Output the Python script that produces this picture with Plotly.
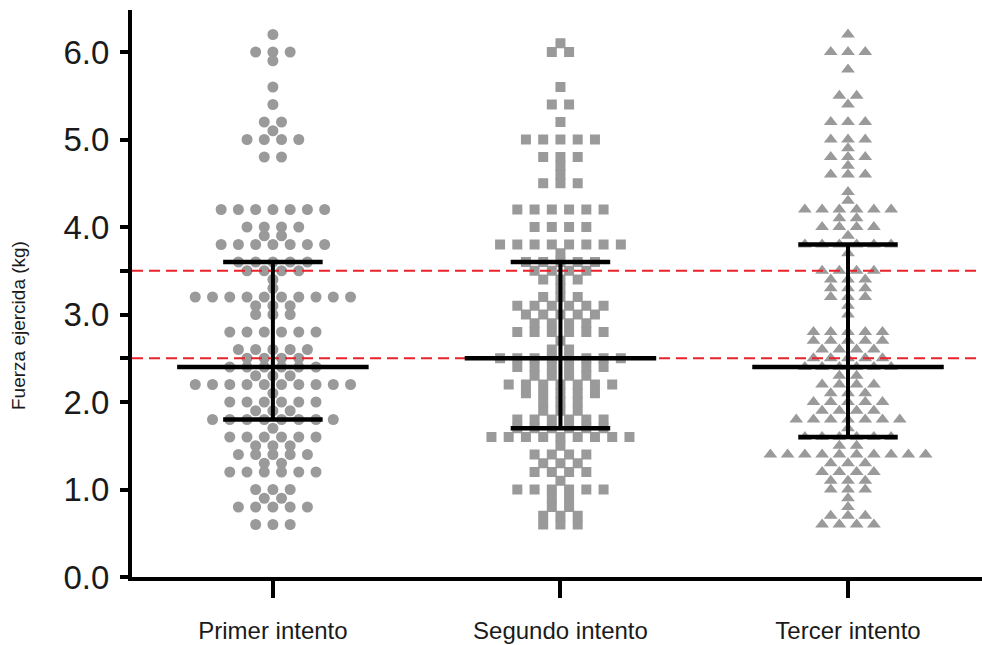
import numpy as np
import plotly.graph_objects as go

categories = ["Primer intento", "Segundo intento", "Tercer intento"]

g1_levels = [6.2, 6.0, 5.9, 5.6, 5.4, 5.2, 5.1, 5.0, 4.8, 4.2, 4.0, 3.9, 3.8, 3.6, 3.5, 3.4, 3.3, 3.2, 3.1, 3.0,
             2.8, 2.6, 2.5, 2.4, 2.3, 2.2, 2.1, 2.0, 1.9, 1.8, 1.7, 1.6, 1.5, 1.4, 1.3, 1.2, 1.0, 0.9, 0.8, 0.6]
g1_counts = [1, 3, 1, 1, 1, 2, 1, 4, 2, 7, 4, 2, 7, 5, 4, 1, 1, 10, 3, 3,
             6, 5, 4, 6, 3, 10, 1, 6, 3, 8, 1, 6, 3, 5, 2, 6, 3, 2, 5, 3]

g2_levels = [6.1, 6.0, 5.6, 5.4, 5.2, 5.0, 4.8, 4.7, 4.6, 4.5, 4.2, 4.0, 3.8, 3.7, 3.6, 3.5, 3.4, 3.3, 3.2, 3.1,
             3.0, 2.9, 2.8, 2.7, 2.6, 2.5, 2.4, 2.3, 2.2, 2.1, 2.0, 1.9, 1.8, 1.7, 1.6, 1.5, 1.4, 1.3, 1.2, 1.1,
             1.0, 0.9, 0.8, 0.7, 0.6]
g2_counts = [1, 2, 1, 2, 1, 5, 3, 1, 1, 3, 6, 4, 8, 1, 5, 4, 3, 1, 3, 6,
             5, 4, 6, 1, 2, 8, 6, 4, 7, 5, 3, 3, 6, 6, 9, 1, 4, 3, 4, 1,
             6, 2, 2, 3, 3]

g3_levels = [6.2, 6.0, 5.8, 5.5, 5.4, 5.2, 5.0, 4.9, 4.8, 4.7, 4.6, 4.4, 4.3, 4.2, 4.1, 4.0, 3.9, 3.8, 3.7, 3.5,
             3.4, 3.3, 3.2, 3.1, 3.0, 2.8, 2.7, 2.6, 2.5, 2.4, 2.3, 2.2, 2.1, 2.0, 1.9, 1.8, 1.7, 1.6, 1.5, 1.4,
             1.3, 1.2, 1.1, 1.0, 0.9, 0.8, 0.7, 0.6]
g3_counts = [1, 3, 1, 2, 1, 3, 3, 1, 3, 1, 3, 1, 1, 6, 2, 4, 1, 6, 1, 4,
             3, 3, 3, 1, 1, 5, 5, 4, 5, 6, 2, 4, 3, 5, 4, 7, 1, 6, 2, 10,
             3, 4, 3, 3, 1, 1, 3, 4]

medians = [2.4, 2.5, 2.4]
q1 = [1.8, 1.7, 1.6]
q3 = [3.6, 3.6, 3.8]
ref_lines = [2.5, 3.5]

y_tickvals = [0, 1, 2, 3, 4, 5, 6, 2.5, 3.5]
y_ticktext = ["0.0", "1.0", "2.0", "3.0", "4.0", "5.0", "6.0", "", ""]

groups = [(g1_levels, g1_counts, "circle"),
          (g2_levels, g2_counts, "square"),
          (g3_levels, g3_counts, "triangle-up")]

STEP = 0.06
GRAY = "#9a9a9a"
FONT = "Liberation Sans, Arial, sans-serif"

fig = go.Figure()
for gi, (levels, counts, sym) in enumerate(groups):
    xs, ys = [], []
    for v, n in zip(levels, counts):
        offs = (np.arange(n) - (n - 1) / 2.0) * STEP
        xs.extend((gi + offs).tolist())
        ys.extend([v] * n)
    fig.add_trace(go.Scatter(
        x=xs, y=ys, mode="markers", showlegend=False, hoverinfo="skip",
        marker=dict(symbol=sym, color=GRAY, size=12 if sym == "triangle-up" else (10 if sym == "square" else 11),
                    line=dict(width=0))))

shapes = []
for r in ref_lines:
    shapes.append(dict(type="line", xref="paper", x0=0, x1=1, yref="y", y0=r, y1=r,
                       line=dict(color="#e8232a", width=2, dash="11px,6px")))
MED_W = 0.333
CAP_W = 0.173
for gi in range(3):
    shapes.append(dict(type="line", xref="x", yref="y", x0=gi, x1=gi, y0=q1[gi], y1=q3[gi],
                       line=dict(color="black", width=4)))
    shapes.append(dict(type="line", xref="x", yref="y", x0=gi - MED_W, x1=gi + MED_W,
                       y0=medians[gi], y1=medians[gi], line=dict(color="black", width=4.5)))
    for q in (q1[gi], q3[gi]):
        shapes.append(dict(type="line", xref="x", yref="y", x0=gi - CAP_W, x1=gi + CAP_W,
                           y0=q, y1=q, line=dict(color="black", width=4.5)))

fig.update_layout(
    width=982, height=645,
    margin=dict(l=132, r=0, t=10, b=68),
    paper_bgcolor="white", plot_bgcolor="white",
    font=dict(family=FONT, color="#1a1a1a"),
    shapes=shapes,
    xaxis=dict(range=[-0.490, 2.466], tickvals=[0, 1, 2], ticktext=categories,
               showgrid=False, zeroline=False, showline=True, linecolor="black", linewidth=3.5,
               ticks="outside", ticklen=17, tickwidth=4, tickcolor="black",
               ticklabelstandoff=12,
               tickfont=dict(size=24, family=FONT, color="#1a1a1a")),
    yaxis=dict(range=[0, 6.48], tickvals=y_tickvals, ticktext=y_ticktext,
               showgrid=False, zeroline=False, showline=True, linecolor="black", linewidth=4,
               ticks="outside", ticklen=8, tickwidth=3.5, tickcolor="black",
               ticklabelstandoff=4,
               tickfont=dict(size=33, family=FONT, color="#1a1a1a")),
    annotations=[dict(text="Fuerza ejercida (kg)", xref="paper", yref="paper",
                      x=(18 - 132) / 850.0, y=(577 - 326) / 567.0, xanchor="center", yanchor="middle",
                      textangle=-90, showarrow=False, font=dict(size=19, family=FONT, color="#1a1a1a"))],
)

fig.write_html("out.html")
